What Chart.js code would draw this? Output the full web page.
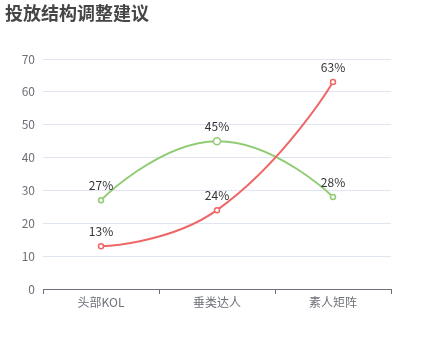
<!DOCTYPE html>
<html lang="zh">
<head>
    <meta charset="UTF-8">
    <title>投放结构调整建议</title>
    <script src="https://cdn.jsdelivr.net/npm/chart.js@4.4.1/dist/chart.umd.min.js"></script>
    <style>
        html, body { margin: 0; padding: 0; background: #fff; }
        #wrap { position: relative; width: 435px; height: 360px; }
        #title { position: absolute; left: 5px; top: -1px; font: bold 18px "Noto Sans CJK SC", sans-serif; color: #464646; }
    </style>
</head>
<body>
    <div id="wrap">
        <div id="title">投放结构调整建议</div>
        <canvas id="chart" width="435" height="360"></canvas>
    </div>

    <script>
        var categories = ["头部KOL", "垂类达人", "素人矩阵"]
        var redValues = [13, 24, 63]
        var greenValues = [27, 45, 28]
        var yTicks = [0, 10, 20, 30, 40, 50, 60, 70]

        var FONT = '"Noto Sans CJK SC", sans-serif'

        // end points get no bezier handle (smooth line starts/ends flat on the point)
        var flatEnds = {
            id: 'flatEnds',
            beforeDatasetsDraw: function(chart) {
                chart.data.datasets.forEach(function(ds, i) {
                    var pts = chart.getDatasetMeta(i).data
                    var first = pts[0], last = pts[pts.length - 1]
                    first.cp2x = first.x; first.cp2y = first.y
                    last.cp1x = last.x; last.cp1y = last.y
                })
            }
        }

        // draws "xx%" above each point
        var pointLabels = {
            id: 'pointLabels',
            afterDatasetsDraw: function(chart) {
                var ctx = chart.ctx
                ctx.save()
                ctx.font = '12px ' + FONT
                ctx.fillStyle = '#333'
                ctx.textAlign = 'center'
                ctx.textBaseline = 'bottom'
                chart.data.datasets.forEach(function(ds, i) {
                    chart.getDatasetMeta(i).data.forEach(function(pt, j) {
                        ctx.fillText(ds.data[j] + '%', pt.x, pt.y - 9)
                    })
                })
                ctx.restore()
            }
        }

        var ctx = document.getElementById('chart').getContext('2d')
        var myChart = new Chart(ctx, {
            type: 'line',
            data: {
                labels: categories,
                datasets: [{
                    data: redValues,
                    borderColor: '#ee6666',
                    backgroundColor: '#fff',
                    borderWidth: 2,
                    pointBorderWidth: 1.5,
                    pointRadius: 2.5,
                    tension: 0.5
                },
                {
                    data: greenValues,
                    borderColor: '#91cc75',
                    backgroundColor: '#fff',
                    borderWidth: 2,
                    pointBorderWidth: 1.5,
                    pointRadius: [2.5, 3.5, 2.5],
                    tension: 0.5
                }]
            },
            options: {
                responsive: false,
                animation: false,
                layout: { padding: { top: 59, right: 44, bottom: 41, left: 0 } },
                plugins: {
                    legend: { display: false },
                    tooltip: { enabled: false }
                },
                scales: {
                    x: {
                        offset: true,
                        afterFit: function(s) { s.height = 30 },
                        grid: { offset: true, drawOnChartArea: false, tickLength: 5, color: '#6e7079' },
                        border: { color: '#6e7079' },
                        ticks: { color: '#6e7079', font: { size: 12, family: FONT }, padding: 1 }
                    },
                    y: {
                        min: 0,
                        max: 70,
                        afterFit: function(s) { s.width = 43 },
                        afterBuildTicks: function(s) { s.ticks = yTicks.map(function(v) { return { value: v } }) },
                        grid: { color: '#e0e6f1', drawTicks: false },
                        border: { display: false },
                        ticks: { color: '#6e7079', font: { size: 12, family: FONT }, padding: 8 }
                    }
                }
            },
            plugins: [flatEnds, pointLabels]
        })
    </script>
</body>
</html>
